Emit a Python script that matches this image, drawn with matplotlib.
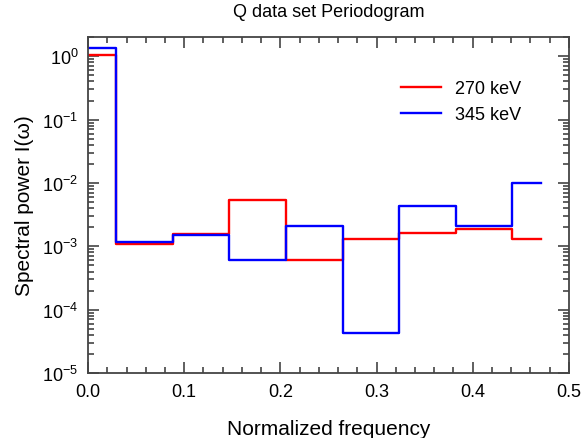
import numpy as np
import matplotlib.pyplot as plt
from matplotlib.ticker import LogLocator, MultipleLocator, NullFormatter

plt.rcParams['font.family'] = ['Liberation Sans', 'DejaVu Sans']
plt.rcParams['mathtext.fontset'] = 'custom'
plt.rcParams['mathtext.rm'] = 'Liberation Sans'
plt.rcParams['mathtext.it'] = 'Liberation Sans:italic'

# periodogram values at frequencies k/17
freq = [k / 17 for k in range(9)]
p270 = [1.03, 1.1e-3, 1.58e-3, 5.4e-3, 6.0e-4, 1.29e-3, 1.64e-3, 1.89e-3, 1.32e-3]
p345 = [1.35, 1.15e-3, 1.49e-3, 6.0e-4, 2.13e-3, 4.3e-5, 4.4e-3, 2.13e-3, 1.0e-2]

fig = plt.figure(figsize=(5.87, 4.39), dpi=100)
ax = fig.add_axes([0.150, 0.148, 0.819, 0.765])

ax.plot(freq, p270, drawstyle='steps-mid', color='#ff0000', lw=1.7, label='270 keV')
ax.plot(freq, p345, drawstyle='steps-mid', color='#0000ff', lw=1.7, label='345 keV')

ax.set_yscale('log')
ax.set_xlim(0, 0.5)
ax.set_ylim(1e-5, 2)
ax.xaxis.set_major_locator(MultipleLocator(0.1))
ax.xaxis.set_minor_locator(MultipleLocator(0.02))
ax.xaxis.set_major_formatter(plt.FormatStrFormatter('%.1f'))
ax.yaxis.set_major_locator(LogLocator(base=10, numticks=10))
ax.yaxis.set_minor_locator(LogLocator(base=10, subs=np.arange(2, 10), numticks=20))
ax.yaxis.set_minor_formatter(NullFormatter())

ax.tick_params(which='both', direction='in', top=True, right=True, color='#444444', width=1.2)
ax.tick_params(which='major', length=8, labelsize=13, pad=7)
ax.tick_params(which='minor', length=4)
for s in ax.spines.values():
    s.set_color('#444444')
    s.set_linewidth(1.3)

ax.set_title('Q data set Periodogram', fontsize=13, pad=15)
ax.set_xlabel('Normalized frequency', fontsize=15, labelpad=14)
ax.set_ylabel('Spectral power I(ω)', fontsize=15, labelpad=6)
ax.legend(loc='upper right', frameon=False, fontsize=13, handlelength=2.2,
          bbox_to_anchor=(0.935, 0.92), labelspacing=0.5)

fig.savefig('out.png', dpi=100)
